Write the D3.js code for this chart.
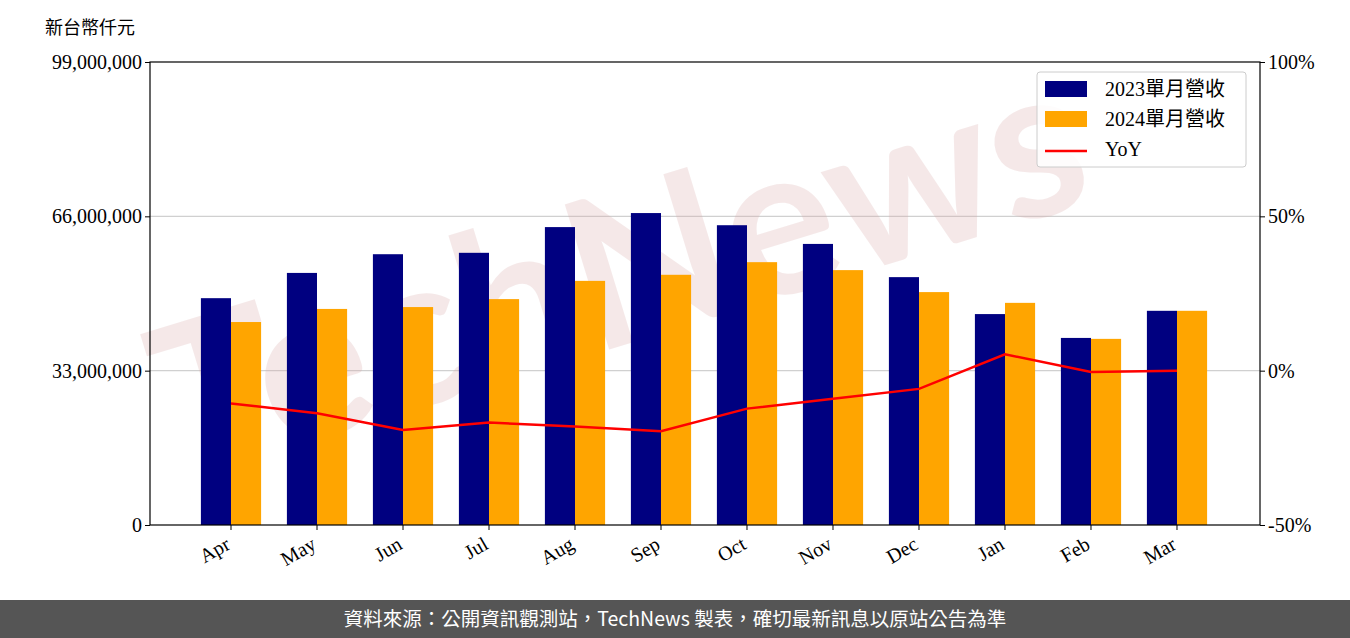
<!DOCTYPE html>
<html><head><meta charset="utf-8">
<script src="https://cdn.jsdelivr.net/npm/d3@7"></script>
<style>body{margin:0;background:#fff}</style>
</head><body><div id="chart"></div>
<script>
var months = ["Apr","May","Jun","Jul","Aug","Sep","Oct","Nov","Dec","Jan","Feb","Mar"];
var rev2023 = [48.5,53.9,57.9,58.2,63.7,66.7,64.1,60.1,53.0,45.1,40.0,45.8].map(function(v){return v*1e6});
var rev2024 = [43.4,46.2,46.6,48.3,52.2,53.5,56.2,54.5,49.8,47.5,39.8,45.8].map(function(v){return v*1e6});
var yoy = [-10.6,-13.8,-19.2,-16.8,-18.1,-19.6,-12.3,-9.1,-5.9,5.3,-0.4,0];
var leftTicks = [0,33e6,66e6,99e6];
var rightTicks = [-50,0,50,100];

var width = 1350, height = 638;
var serif = "'Liberation Serif','Noto Sans CJK TC',serif";
var svg = d3.select("#chart").append("svg").attr("width", width).attr("height", height);

var x = d3.scaleBand().domain(months).range([149,1259]).paddingInner(0.3).paddingOuter(0.6035);
var y = d3.scaleLinear().domain([0,99e6]).range([525,62]);
var y2 = d3.scaleLinear().domain([-50,100]).range([525,62]);
var bw = x.bandwidth()/2;

svg.selectAll("line.grid").data([33e6,66e6]).enter().append("line")
  .attr("x1",150).attr("x2",1260).attr("y1",function(d){return y(d)}).attr("y2",function(d){return y(d)})
  .attr("stroke","#d0d0d0").attr("stroke-width",1.2);

svg.append("text").attr("transform","translate(640,340) rotate(-17)")
  .attr("text-anchor","middle").attr("font-family","Lato, sans-serif").attr("font-weight","bold")
  .attr("font-size",210).attr("fill","#d9a8a8").attr("opacity",0.25).text("TechNews");

svg.selectAll("rect.a").data(rev2023).enter().append("rect")
  .attr("x",function(d,i){return x(months[i])}).attr("width",bw)
  .attr("y",function(d){return y(d)}).attr("height",function(d){return y(0)-y(d)}).attr("fill","#000080");
svg.selectAll("rect.b").data(rev2024).enter().append("rect")
  .attr("x",function(d,i){return x(months[i])+bw}).attr("width",bw)
  .attr("y",function(d){return y(d)}).attr("height",function(d){return y(0)-y(d)}).attr("fill","#ffa500");

var line = d3.line().x(function(d,i){return x(months[i])+bw}).y(function(d){return y2(d)});
svg.append("path").datum(yoy).attr("d",line).attr("fill","none").attr("stroke","#ff0000").attr("stroke-width",2.5);

svg.append("rect").attr("x",150).attr("y",62).attr("width",1110).attr("height",463)
  .attr("fill","none").attr("stroke","#000").attr("stroke-width",1.2);

var ax = svg.append("g").attr("transform","translate(0,525)")
  .call(d3.axisBottom(x).tickSize(5).tickSizeOuter(0));
ax.selectAll(".tick").attr("transform",function(d){return "translate("+(x(d)+bw)+",0)"});
ax.select(".domain").remove();
ax.selectAll("text").attr("font-family",serif).attr("font-size",20).attr("fill","#000")
  .attr("text-anchor","end").attr("y",0).attr("dy","0.35em").attr("x",0)
  .attr("transform","translate(-3,17) rotate(-30)");

var al = svg.append("g").attr("transform","translate(150,0)")
  .call(d3.axisLeft(y).tickValues(leftTicks).tickSize(5).tickFormat(d3.format(",")));
al.select(".domain").remove();
al.selectAll("text").attr("font-family",serif).attr("font-size",20).attr("fill","#000");

var ar = svg.append("g").attr("transform","translate(1260,0)")
  .call(d3.axisRight(y2).tickValues(rightTicks).tickSize(5).tickFormat(function(d){return d+"%"}));
ar.select(".domain").remove();
ar.selectAll("text").attr("font-family",serif).attr("font-size",20).attr("fill","#000");

svg.append("text").attr("x",45).attr("y",34).attr("font-family","'Noto Sans CJK TC',sans-serif")
  .attr("font-size",18).text("新台幣仟元");

var lg = svg.append("g").attr("transform","translate(1037,72)");
lg.append("rect").attr("width",209).attr("height",95).attr("rx",3).attr("fill","#fff").attr("fill-opacity",0.85).attr("stroke","#ccc");
var items = [["2023單月營收","#000080","bar"],["2024單月營收","#ffa500","bar"],["YoY","#ff0000","line"]];
items.forEach(function(it,i){
  var cy = 17 + i*30;
  if(it[2]=="bar") lg.append("rect").attr("x",8).attr("y",cy-8).attr("width",42).attr("height",16).attr("fill",it[1]);
  else lg.append("line").attr("x1",8).attr("x2",50).attr("y1",cy+2).attr("y2",cy+2).attr("stroke",it[1]).attr("stroke-width",2.5);
  lg.append("text").attr("x",68).attr("y",cy+7).attr("font-family",serif).attr("font-size",20).text(it[0]);
});

svg.append("rect").attr("x",0).attr("y",600).attr("width",width).attr("height",38).attr("fill","#555");
svg.append("text").attr("x",width/2).attr("y",626).attr("text-anchor","middle").attr("fill","#fff")
  .attr("font-family","'Noto Sans CJK TC',sans-serif").attr("font-size",19.5)
  .text("資料來源：公開資訊觀測站，TechNews 製表，確切最新訊息以原站公告為準");
</script></body></html>
